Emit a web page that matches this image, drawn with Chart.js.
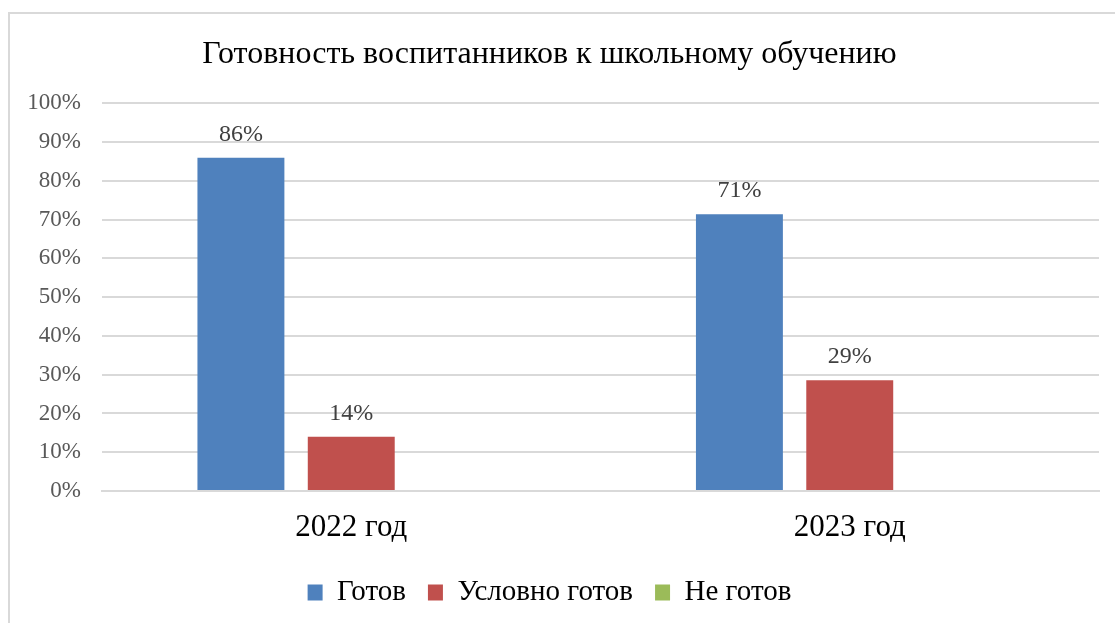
<!DOCTYPE html>
<html>
<head>
<meta charset="utf-8">
<script src="https://cdn.jsdelivr.net/npm/chart.js@4"></script>
<style>
  html, body { margin: 0; padding: 0; background: #fff; overflow: hidden; }
  #wrap { position: relative; width: 1115px; height: 623px; }
  #frame { position: absolute; left: 8px; top: 12px; width: 1130px; height: 640px;
           border: 2px solid #d9d9d9; box-sizing: border-box; }
  canvas { position: absolute; left: 0; top: 0; }
</style>
</head>
<body>
<div id="wrap">
  <div id="frame"></div>
  <canvas id="chart" width="1115" height="623"></canvas>
</div>
<script>
// Chart data
const years = ["2022 год", "2023 год"];
const seriesNames = ["Готов", "Условно готов", "Не готов"];
const ready = [86, 71.4];
const conditionallyReady = [14, 28.6];
const notReady = [0, 0];
const yTicks = [0, 10, 20, 30, 40, 50, 60, 70, 80, 90, 100];

const serif = "'Liberation Serif', 'Times New Roman', serif";

// Labels above bars, like Excel data labels
const barLabels = {
  id: "barLabels",
  afterDatasetsDraw(chart) {
    const ctx = chart.ctx;
    ctx.save();
    ctx.font = "24px " + serif;
    ctx.fillStyle = "#404040";
    ctx.textAlign = "center";
    ctx.textBaseline = "alphabetic";
    chart.data.datasets.forEach((ds, i) => {
      const meta = chart.getDatasetMeta(i);
      meta.data.forEach((bar, j) => {
        const v = ds.data[j];
        if (!v) return;
        ctx.fillText(Math.round(v) + "%", bar.x, bar.y - 17);
      });
    });
    ctx.restore();
  },
};

const ctx = document.getElementById("chart");
new Chart(ctx, {
  type: "bar",
  data: {
    labels: years,
    datasets: [
      { label: seriesNames[0], data: ready, backgroundColor: "#4F81BD" },
      { label: seriesNames[1], data: conditionallyReady, backgroundColor: "#C0504D" },
      { label: seriesNames[2], data: notReady, backgroundColor: "#9BBB59" },
    ],
  },
  options: {
    responsive: false,
    animation: false,
    layout: { padding: { left: 0, right: 16, top: 0, bottom: 6 } },
    datasets: {
      bar: { categoryPercentage: 0.664, barPercentage: 0.788 },
    },
    plugins: {
      title: {
        display: true,
        text: "Готовность воспитанников к школьному обучению",
        color: "#000",
        font: { family: serif, size: 32, weight: "normal" },
        padding: { top: 35, bottom: 30 },
      },
      legend: {
        position: "bottom",
        labels: {
          boxWidth: 15,
          boxHeight: 16,
          padding: 22,
          color: "#000",
          font: { family: serif, size: 29 },
        },
      },
      tooltip: { enabled: false },
    },
    scales: {
      x: {
        grid: { display: false },
        border: { display: true, color: "#d9d9d9", width: 2 },
        ticks: {
          color: "#000",
          font: { family: serif, size: 31, lineHeight: 1 },
          padding: 13,
        },
      },
      y: {
        min: 0,
        max: 100,
        afterFit: (scale) => { scale.width = 102; },
        afterBuildTicks: (scale) => {
          scale.ticks = yTicks.map((v) => ({ value: v }));
        },
        grid: { color: "#d9d9d9", lineWidth: 2, drawTicks: false },
        border: { display: false },
        ticks: {
          color: "#595959",
          padding: 21,
          font: { family: serif, size: 23 },
          callback: (v) => v + "%",
        },
      },
    },
  },
  plugins: [barLabels],
});
</script>
</body>
</html>
